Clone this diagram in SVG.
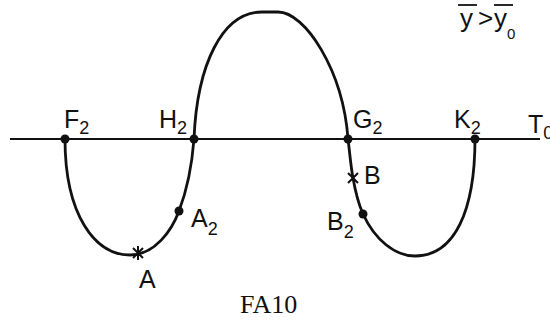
<svg xmlns="http://www.w3.org/2000/svg" width="550" height="321" viewBox="0 0 550 321">
<style>
.lbl{font-family:"Liberation Sans",Arial,sans-serif;font-size:25px;fill:#111}
.sub{font-size:18px}
.cap{font-family:"Liberation Serif","Times New Roman",serif;font-size:26px;fill:#111}
.curve{fill:none;stroke:#111;stroke-width:2.8;stroke-linecap:round}
.axis{stroke:#111;stroke-width:2}
.dot{fill:#111}
.cross{stroke:#111;stroke-width:2}
.ov{stroke:#111;stroke-width:1.8}
</style>
<g id="connectors">
<line class="axis" x1="10" y1="139" x2="540" y2="139"/>
<path class="curve" d="M 65 139 C 65 215, 95 255, 130 255 C 155 255, 172 230, 179 211 C 187 190, 192 165, 194 139 C 197 65, 222 12, 262 12 L 278 12 C 305 12, 343 70, 348 139 C 350 155, 351 168, 353 178 C 356 195, 359 205, 363 214 C 375 240, 395 256, 415 256 C 455 256, 475 210, 475 139"/>
</g>
<g id="F2"><circle class="dot" cx="65" cy="139" r="4.5"/><text class="lbl" x="64" y="128">F<tspan class="sub" dy="6">2</tspan></text></g>
<g id="H2"><circle class="dot" cx="194" cy="139" r="4.5"/><text class="lbl" x="159" y="128">H<tspan class="sub" dy="6">2</tspan></text></g>
<g id="G2"><circle class="dot" cx="348" cy="139" r="4.5"/><text class="lbl" x="353" y="128">G<tspan class="sub" dy="6">2</tspan></text></g>
<g id="K2"><circle class="dot" cx="475" cy="139" r="4.5"/><text class="lbl" x="454" y="128">K<tspan class="sub" dy="6">2</tspan></text></g>
<g id="T0"><text class="lbl" x="528" y="133">T<tspan class="sub" dy="6">0</tspan></text></g>
<g id="A2"><circle class="dot" cx="179" cy="211" r="4.5"/><text class="lbl" x="191" y="227">A<tspan class="sub" dy="8">2</tspan></text></g>
<g id="A"><path class="cross" d="M 133 248 L 143 258 M 143 248 L 133 258 M 138 246 L 138 260"/><text class="lbl" x="139" y="288">A</text></g>
<g id="B"><path class="cross" d="M 348 173 L 358 183 M 358 173 L 348 183"/><text class="lbl" x="364" y="184">B</text></g>
<g id="B2"><circle class="dot" cx="363" cy="214" r="4.5"/><text class="lbl" x="327" y="230">B<tspan class="sub" dy="8">2</tspan></text></g>
<g id="cond">
<text class="lbl" style="font-size:26px" x="460" y="27">y</text>
<text class="lbl" style="font-size:26px" x="478" y="27">&gt;</text>
<text class="lbl" style="font-size:26px" x="494" y="27">y</text>
<text class="lbl" style="font-size:15px" x="507" y="39">0</text>
<line class="ov" x1="458" y1="5" x2="477" y2="5"/>
<line class="ov" x1="494" y1="5" x2="513" y2="5"/>
</g>
<text class="cap" x="240" y="313">FA10</text>
</svg>
